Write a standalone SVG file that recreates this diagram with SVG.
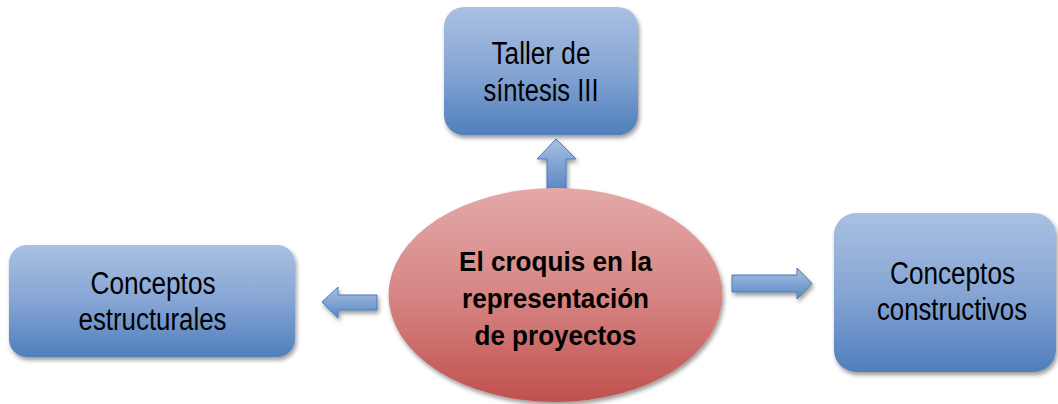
<svg xmlns="http://www.w3.org/2000/svg" width="1058" height="404" viewBox="0 0 1058 404">
  <defs>
    <linearGradient id="gBlue" x1="0" y1="0" x2="0" y2="1">
      <stop offset="0" stop-color="#a9c0e2"/>
      <stop offset="0.5" stop-color="#86a5d4"/>
      <stop offset="1" stop-color="#4f7fbd"/>
    </linearGradient>
    <linearGradient id="gRed" x1="0" y1="0" x2="0" y2="1">
      <stop offset="0" stop-color="#e3a9a8"/>
      <stop offset="0.5" stop-color="#d68684"/>
      <stop offset="1" stop-color="#c0504d"/>
    </linearGradient>
    <linearGradient id="gArrow" x1="0" y1="0" x2="0" y2="1">
      <stop offset="0" stop-color="#a9c0e2"/>
      <stop offset="1" stop-color="#5a88c3"/>
    </linearGradient>
    <filter id="shadow" x="-10%" y="-10%" width="125%" height="130%">
      <feDropShadow dx="1.5" dy="3" stdDeviation="2" flood-color="#000" flood-opacity="0.4"/>
    </filter>
  </defs>
  <style>
    .box { fill: url(#gBlue); filter: url(#shadow); }
    .ell { fill: url(#gRed); filter: url(#shadow); }
    .arrow { fill: url(#gArrow); stroke: #4a7ab8; stroke-width: 1; filter: url(#shadow); }
    .t { font-family: "Liberation Sans", Arial, sans-serif; font-size: 31px; fill: #000; text-anchor: middle; }
    .tb { font-family: "Liberation Sans", Arial, sans-serif; font-size: 27px; font-weight: bold; fill: #000; text-anchor: middle; }
  </style>

  <g id="connectors">
    <polygon class="arrow" points="556,139 576,159 566,159 566,190 547,190 547,159 537,159"/>
    <polygon class="arrow" points="322,302 338,287 338,295 377,295 377,310 338,310 338,318"/>
    <polygon class="arrow" points="812,283.5 797,268 797,275 732,275 732,292 797,292 797,299"/>
  </g>

  <g id="node-taller">
    <rect class="box" x="444" y="7" width="194" height="128" rx="20" ry="20"/>
    <text class="t" x="541" y="63.5" textLength="99" lengthAdjust="spacingAndGlyphs">Taller de</text>
    <text class="t" x="541" y="100.5" textLength="115" lengthAdjust="spacingAndGlyphs">síntesis III</text>
  </g>

  <g id="node-estructurales">
    <rect class="box" x="9" y="245" width="286" height="112" rx="18" ry="18"/>
    <text class="t" x="153" y="293.5" textLength="125" lengthAdjust="spacingAndGlyphs">Conceptos</text>
    <text class="t" x="152.5" y="330" textLength="148" lengthAdjust="spacingAndGlyphs">estructurales</text>
  </g>

  <g id="node-constructivos">
    <rect class="box" x="834" y="213" width="222" height="159" rx="22" ry="22"/>
    <text class="t" x="952.5" y="283.5" textLength="125" lengthAdjust="spacingAndGlyphs">Conceptos</text>
    <text class="t" x="952" y="320" textLength="150" lengthAdjust="spacingAndGlyphs">constructivos</text>
  </g>

  <g id="node-croquis">
    <ellipse class="ell" cx="555.5" cy="295" rx="167" ry="107"/>
    <text class="tb" x="555.5" y="271" textLength="193" lengthAdjust="spacingAndGlyphs">El croquis en la</text>
    <text class="tb" x="555.5" y="308" textLength="187" lengthAdjust="spacingAndGlyphs">representación</text>
    <text class="tb" x="555.5" y="345" textLength="162" lengthAdjust="spacingAndGlyphs">de proyectos</text>
  </g>
</svg>
